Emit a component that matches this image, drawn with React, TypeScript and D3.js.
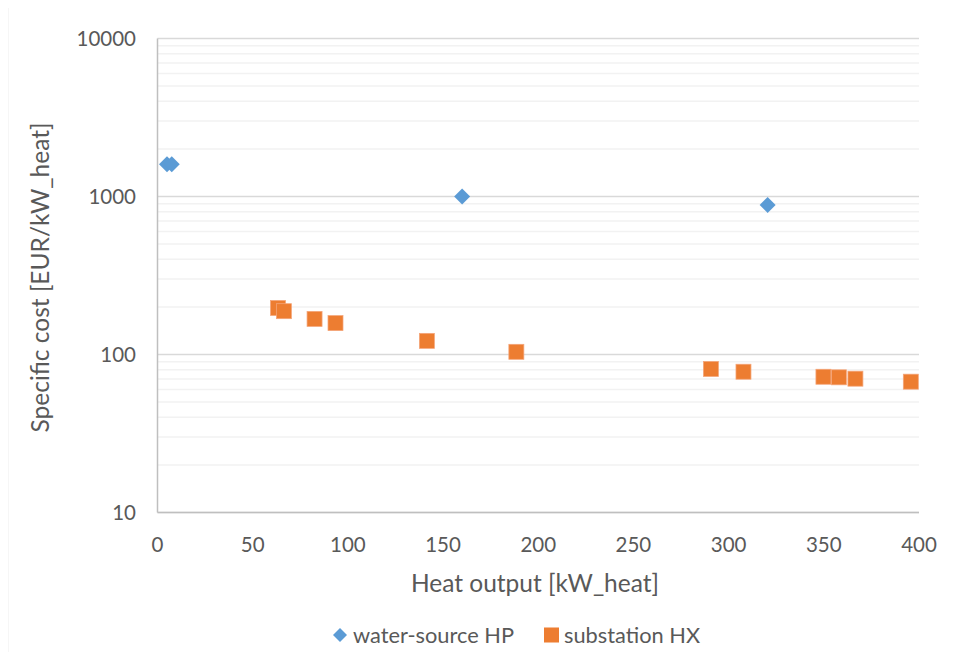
import React from "react";
import * as d3 from "d3";

// Water-source heat pump: heat output [kW] and specific cost [EUR/kW]
const hpOutput = [5, 7.5, 160, 320.5];
const hpCost = [1600, 1600, 1000, 885];

// Substation heat exchanger
const hxOutput = [63.3, 66.4, 82.5, 93.5, 141.5, 188.5, 290.7, 307.8, 349.8, 357.9, 366.6, 395.7];
const hxCost = [197, 188, 168, 158, 122, 104, 81, 77.8, 72.3, 71.7, 70.3, 67.3];

const xTicks = [0, 50, 100, 150, 200, 250, 300, 350, 400];
const yTicks = [10, 100, 1000, 10000];

const seriesNames = ["water-source HP", "substation HX"];
const colors = ["#5B9BD5", "#ED7D31"];

const W = 954;
const H = 660;
const FONT = "Lato, 'Open Sans', sans-serif";
const TEXT = "#595959";

const diamondPath = (r: number) => `M0,${-r}L${r},0L0,${r}L${-r},0Z`;

export default function App() {
  const left = 157.5;
  const right = 919;
  const top = 38.5;
  const bottom = 512.5;

  const x = d3.scaleLinear().domain([0, 400]).range([left, right]);
  const y = d3.scaleLog().domain([10, 10000]).range([bottom, top]);

  const minor: number[] = [];
  for (let e = 1; e < 4; e++) {
    for (let m = 2; m <= 9; m++) minor.push(m * Math.pow(10, e));
  }

  return (
    <div style={{ margin: "-8px" }}>
      <svg width={W} height={H} style={{ display: "block", fontFamily: FONT }}>
        <rect x={0} y={0} width={W} height={H} fill="#fff" />
        <rect x={7.5} y={5.5} width={W + 10} height={H + 10} fill="none" stroke="#d9d9d9" strokeWidth={1.5} />

        {/* minor grid */}
        {minor.map((v) => (
          <line key={"m" + v} x1={left} x2={right} y1={y(v)} y2={y(v)} stroke="#f2f2f2" strokeWidth={1.5} />
        ))}
        {/* major grid */}
        {yTicks.map((v) => (
          <line key={"g" + v} x1={left} x2={right} y1={y(v)} y2={y(v)} stroke="#d9d9d9" strokeWidth={1.5} />
        ))}

        {/* axes */}
        <line x1={left} x2={left} y1={top} y2={bottom} stroke="#bfbfbf" strokeWidth={1.5} />
        <line x1={left} x2={right} y1={bottom} y2={bottom} stroke="#bfbfbf" strokeWidth={1.5} />

        {/* y tick labels */}
        {yTicks.map((v) => (
          <text key={"yt" + v} x={136} y={y(v)} dy="0.35em" textAnchor="end" fontSize={20.5} fill={TEXT}>
            {v}
          </text>
        ))}
        {/* x tick labels */}
        {xTicks.map((v) => (
          <text key={"xt" + v} x={x(v)} y={545} dy="0.35em" textAnchor="middle" fontSize={20.5} fill={TEXT}>
            {v}
          </text>
        ))}

        {/* axis titles */}
        <text x={535} y={583} dy="0.35em" textAnchor="middle" fontSize={24.5} fill={TEXT}>
          Heat output [kW_heat]
        </text>
        <text
          transform={`translate(40, ${(top + bottom) / 2 + 2}) rotate(-90)`}
          dy="0.35em"
          textAnchor="middle"
          fontSize={24.5}
          fill={TEXT}
        >
          Specific cost [EUR/kW_heat]
        </text>

        {/* heat pump markers */}
        {hpOutput.map((v, i) => (
          <path key={"hp" + i} d={diamondPath(8)} transform={`translate(${x(v)},${y(hpCost[i])})`} fill={colors[0]} />
        ))}
        {/* heat exchanger markers */}
        {hxOutput.map((v, i) => (
          <rect
            key={"hx" + i}
            x={x(v) - 7.5}
            y={y(hxCost[i]) - 7.5}
            width={15}
            height={15}
            fill={colors[1]}
            stroke="#f4a57a"
            strokeWidth={0.75}
          />
        ))}

        {/* legend */}
        <path d={diamondPath(7)} transform="translate(340,635)" fill={colors[0]} />
        <text x={353} y={635} dy="0.35em" fontSize={21.8} fill={TEXT}>
          {seriesNames[0]}
        </text>
        <rect x={544} y={627.5} width={15} height={15} fill={colors[1]} />
        <text x={564} y={635} dy="0.35em" fontSize={21.8} fill={TEXT}>
          {seriesNames[1]}
        </text>
      </svg>
    </div>
  );
}
